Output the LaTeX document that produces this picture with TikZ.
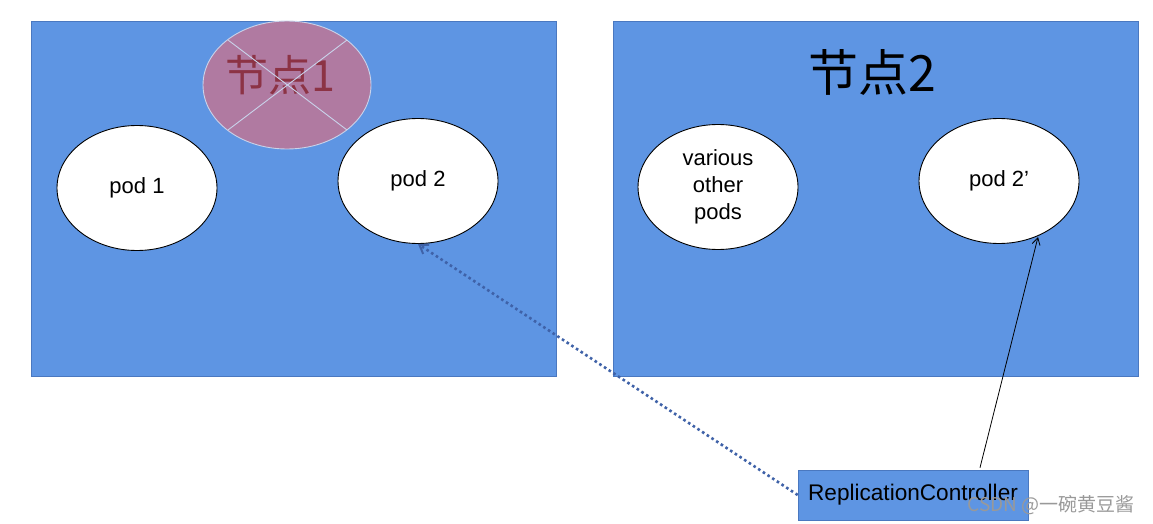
\documentclass[tikz,border=0pt]{standalone}
\usepackage{fontspec}
\setmainfont{Liberation Sans}
\newfontfamily\cjk{Noto Sans CJK SC}
\usetikzlibrary{shapes.geometric,arrows.meta}
\definecolor{nodeblue}{HTML}{5E95E3}
\definecolor{nodeedge}{HTML}{4A78C0}
\definecolor{deadfill}{HTML}{B07AA1}
\definecolor{deadtext}{HTML}{8C3345}
\definecolor{crossline}{HTML}{C9D3EA}
\definecolor{dotblue}{HTML}{3F62A8}
\tikzset{
  hostbox/.style={draw=nodeedge, fill=nodeblue, line width=0.6pt, inner sep=0pt},
  podshape/.style={ellipse, draw=black, fill=white, line width=0.9pt, minimum width=160pt, minimum height=125pt, inner sep=0pt, align=center, font=\fontsize{22}{27}\selectfont},
  rcbox/.style={draw=nodeedge, fill=nodeblue, line width=0.6pt, minimum width=230pt, minimum height=50pt, inner sep=0pt, font=\fontsize{22.6}{26}\selectfont},
}
\begin{document}
\begin{tikzpicture}[x=1pt,y=-1pt]
\useasboundingbox (0,0) rectangle (1153,524);
\fill[white] (0,0) rectangle (1153,524);
% hosts
\node[hostbox, minimum width=525pt, minimum height=355pt] (host1) at (293.5,198.5) {};
\node[hostbox, minimum width=525pt, minimum height=355pt] (host2) at (875.5,198.5) {};
% dead node 1 marker
\node[ellipse, draw=crossline, fill=deadfill, line width=0.9pt, minimum width=168pt, minimum height=128pt, inner sep=0pt] (dead) at (287,85) {};
\node[text=deadtext, font=\cjk\fontsize{43}{46}\selectfont] (deadlabel) at (280,75) {节点1};
\coordinate (c1) at (228,40);
\coordinate (c2) at (347,130);
\coordinate (c3) at (347,40);
\coordinate (c4) at (228,130);
\draw[crossline, line width=0.9pt] (c1) -- (c2);
\draw[crossline, line width=0.9pt] (c3) -- (c4);
\node[font=\cjk\fontsize{50}{54}\selectfont] (label2) at (872,72) {节点2};
% pods
\node[podshape] (pod1) at (137,188) {pod 1};
\node[podshape] (pod2) at (418,181) {pod 2};
\node[podshape] (other) at (718,187) {various\\other\\pods};
\node[podshape] (pod2b) at (999,181) {pod 2’};
% controller
\node[rcbox] (rc) at (913,495) {ReplicationController};
% connectors
\draw[dotblue, line width=2.6pt, dash pattern=on 2.6pt off 3pt, -{Straight Barb[length=8pt,width=11pt,line width=2pt]}] (rc.west) -- (pod2.south);
\draw[black, line width=0.8pt, -{Straight Barb[length=7pt,width=8pt]}] (rc.north) ++(67,-2) coordinate (rcout) -- (1038,237) coordinate (pod2in);
% watermark
\node[text=black!40, font=\cjk\fontsize{19}{22}\selectfont, anchor=east] (wm) at (1138,505) {CSDN @一碗黄豆酱};
\end{tikzpicture}
\end{document}
